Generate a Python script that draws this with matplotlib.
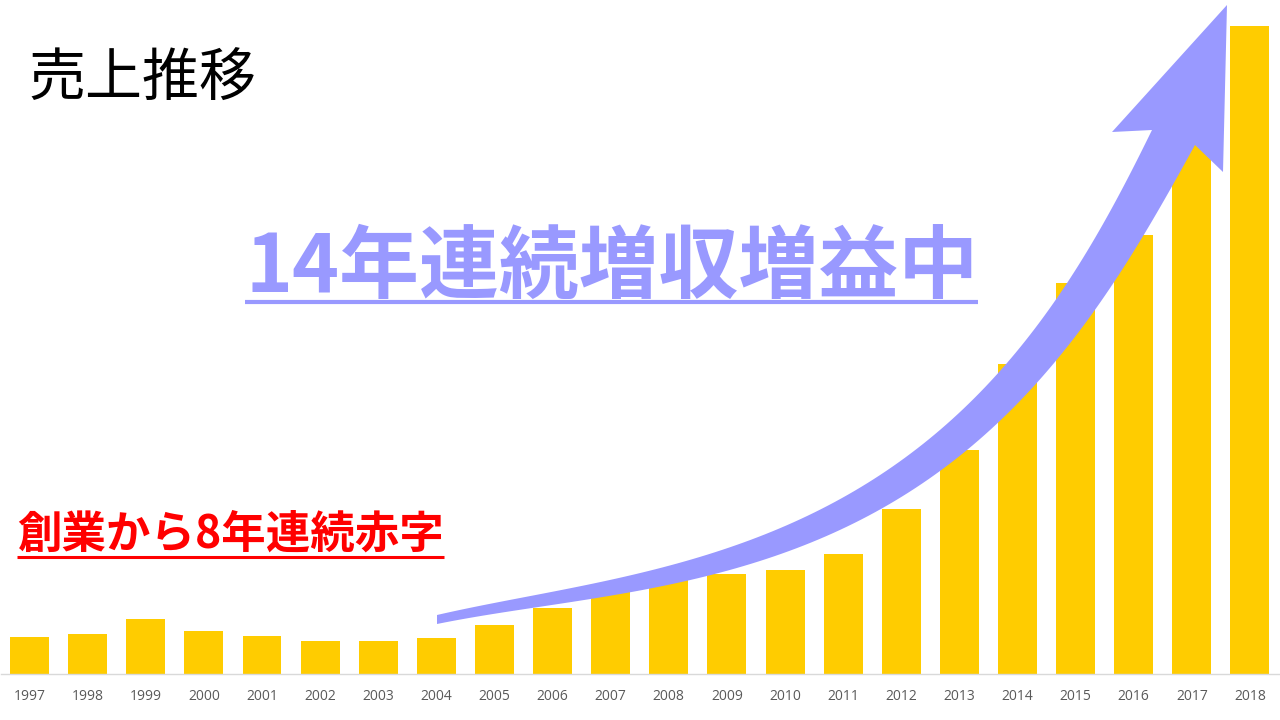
import numpy as np
import matplotlib
matplotlib.use("Agg")
import matplotlib.pyplot as plt
from matplotlib.patches import Polygon
from matplotlib.lines import Line2D
import matplotlib.transforms as mtransforms
from math import comb

plt.rcParams['font.family'] = ['Noto Sans CJK JP', 'DejaVu Sans']

# ---- data ----
years = [str(y) for y in range(1997, 2019)]
sales = [37, 40, 55, 43, 38, 33, 33, 36, 49, 66, 86, 98, 100, 104, 120, 165,
         224, 310, 391, 439, 545, 648]
title_text = "売上推移"
loss_text = "創業から8年連続赤字"
growth_text = "14年連続増収増益中"

W, H = 1280, 720
fig = plt.figure(figsize=(W / 100, H / 100), dpi=100)
fig.patch.set_facecolor('white')

ax = fig.add_axes([0.5 / W, 46 / H, 1278.5 / W, 674 / H])
x = np.arange(len(years))
ax.bar(x, sales, width=0.67, color='#FFCC00', zorder=2)
ax.set_xlim(-0.5, len(years) - 0.5)
ax.set_ylim(0, 674)
ax.set_xticks(x)
ax.set_xticklabels(years, fontsize=10, color='#595959',
                   family=['Open Sans', 'DejaVu Sans'])
ax.tick_params(axis='x', length=0, pad=11)
ax.set_yticks([])
for s in ['top', 'left', 'right']:
    ax.spines[s].set_visible(False)
ax.spines['bottom'].set_color('#D9D9D9')
ax.spines['bottom'].set_linewidth(1)
ax.set_facecolor('none')

# pixel transform (origin top-left)
pix = mtransforms.Affine2D().scale(1 / W, -1 / H).translate(0, 1) + fig.transFigure


def bezier_fit(pts, deg=4, n=120):
    """Smooth Bezier curve fitted (least squares) through guide points,
    endpoints fixed."""
    Q = np.asarray(pts, float)
    d = np.r_[0, np.cumsum(np.hypot(*np.diff(Q, axis=0).T))]
    t = d / d[-1]
    B = np.stack([comb(deg, k) * t ** k * (1 - t) ** (deg - k)
                  for k in range(deg + 1)], axis=1)
    P0, Pn = Q[0], Q[-1]
    rhs = Q - np.outer(B[:, 0], P0) - np.outer(B[:, -1], Pn)
    mid, *_ = np.linalg.lstsq(B[:, 1:-1], rhs, rcond=None)
    P = np.vstack([P0, mid, Pn])
    tt = np.linspace(0, 1, n)
    BB = np.stack([comb(deg, k) * tt ** k * (1 - tt) ** (deg - k)
                   for k in range(deg + 1)], axis=1)
    return BB @ P


upper = [(437, 615), (593, 583), (753, 540), (850, 492), (917, 450),
         (983, 390), (1050, 307), (1087, 250), (1117, 200), (1152, 130)]
lower = [(437, 624), (593, 597), (753, 565), (870, 513), (917, 490),
         (983, 437), (1050, 363), (1117, 278), (1167, 200), (1195, 145)]
head = [(1112, 132), (1227, 5), (1223, 172)]
up = bezier_fit(upper)
lo = bezier_fit(lower)[::-1]
poly = np.vstack([up, np.array(head, float), lo])
arrow = Polygon(poly, closed=True, transform=pix, facecolor='#9999FF',
                edgecolor='none', zorder=5)
fig.add_artist(arrow)

# ---- texts ----
t1 = fig.text(28 / W, 1 - 80 / H, title_text, fontsize=41, color='black',
              ha='left', va='center')
t2 = fig.text(17 / W, 1 - 535 / H, loss_text, fontsize=32, color='#FF0000',
              fontweight='bold', ha='left', va='center')
t3 = fig.text(245 / W, 1 - 268 / H, growth_text, fontsize=57.5, color='#9999FF',
              fontweight='bold', ha='left', va='center')

fig.canvas.draw()
r = fig.canvas.get_renderer()


def underline(t, ypix, lw, color):
    bb = t.get_window_extent(r)
    x0, x1 = bb.x0 / W, bb.x1 / W
    yy = 1 - ypix / H
    fig.add_artist(Line2D([x0, x1], [yy, yy], transform=fig.transFigure,
                          color=color, lw=lw, solid_capstyle='butt'))


underline(t2, 557, 2.2, '#FF0000')
underline(t3, 302, 3.0, '#9999FF')

fig.savefig('out.png', dpi=100, facecolor='white')
